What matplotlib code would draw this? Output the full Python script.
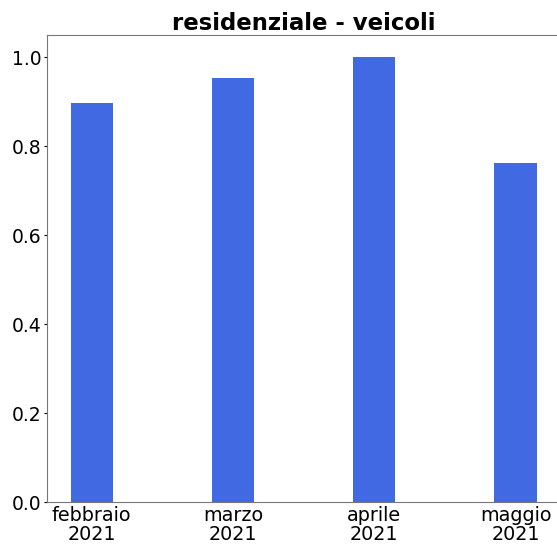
import matplotlib
matplotlib.use("Agg")
import matplotlib.pyplot as plt

categories = ["febbraio\n2021", "marzo\n2021", "aprile\n2021", "maggio\n2021"]
values = [0.898, 0.953, 1.0, 0.763]
title = "residenziale - veicoli"

fig = plt.figure(figsize=(5.57, 5.44), dpi=100)
ax = fig.add_axes([47.2/557, 1-502/544, (560-47.2)/557, (502-35)/544])
x = list(range(len(categories)))
ax.bar(x, values, width=0.3, color="royalblue")
ax.set_xticks(x)
ax.set_xticklabels(categories, fontsize=13.8, linespacing=0.98)
ax.set_yticks([0.0, 0.2, 0.4, 0.6, 0.8, 1.0])
ax.set_yticklabels(["0.0", "0.2", "0.4", "0.6", "0.8", "1.0"], fontsize=13.5)
ax.tick_params(axis="x", length=0, pad=3)
ax.tick_params(axis="y", length=2, pad=2)
for s in ax.spines.values():
    s.set_color("#777777")
ax.set_title(title, fontsize=16.4, fontweight="bold", pad=1)
fig.savefig("out.png", dpi=100)
